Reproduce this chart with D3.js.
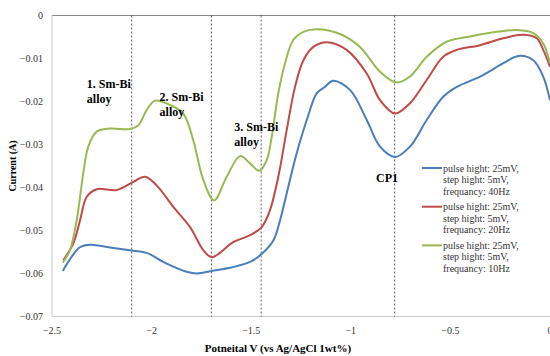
<!DOCTYPE html>
<html>
<head>
<meta charset="utf-8">
<script src="https://cdn.jsdelivr.net/npm/d3@7"></script>
<style>
  body { margin: 0; background: #fff; }
  svg text { font-family: "Liberation Serif", "DejaVu Serif", serif; }
  .tick-label { font-size: 10px; fill: #333; }
  .note { font-size: 12px; font-weight: bold; fill: #000; }
  .legend-text { font-size: 10px; fill: #333; }
</style>
</head>
<body>
<svg id="chart"></svg>
<script>
// potential (V) / current (A)
const v40 = [-2.446, -2.40, -2.36, -2.309, -2.20, -2.092, -2.025, -1.924, -1.824, -1.774, -1.70, -1.60, -1.50, -1.444,
  -1.389, -1.355, -1.322, -1.272, -1.221, -1.171, -1.13, -1.088, -1.004, -0.92, -0.853, -0.778, -0.703, -0.619,
  -0.536, -0.468, -0.351, -0.234, -0.159, -0.084, -0.034, 0];
const i40 = [-0.0594, -0.0560, -0.0539, -0.0533, -0.0540, -0.0547, -0.0552, -0.0577, -0.0596, -0.0600, -0.0594, -0.0586, -0.0572, -0.0553,
  -0.0523, -0.0476, -0.0414, -0.0321, -0.0243, -0.0181, -0.0166, -0.0152, -0.0173, -0.0243, -0.0305, -0.0329, -0.0305, -0.0243,
  -0.0189, -0.0166, -0.0142, -0.0111, -0.0094, -0.0104, -0.0142, -0.0197];

const v20 = [-2.443, -2.393, -2.359, -2.326, -2.276, -2.175, -2.092, -2.033, -1.975, -1.891, -1.807, -1.74, -1.697,
  -1.59, -1.506, -1.447, -1.406, -1.364, -1.322, -1.28, -1.238, -1.188, -1.121, -1.021, -0.92, -0.853, -0.778,
  -0.703, -0.619, -0.536, -0.468, -0.351, -0.234, -0.134, -0.067, -0.034, 0];
const i20 = [-0.0569, -0.0530, -0.0476, -0.0422, -0.0404, -0.0406, -0.0387, -0.0375, -0.0395, -0.0445, -0.0492, -0.0546, -0.0562,
  -0.0527, -0.0511, -0.0492, -0.0453, -0.0375, -0.0267, -0.0166, -0.0104, -0.0073, -0.0062, -0.0080, -0.0135, -0.0197, -0.0228,
  -0.0204, -0.0150, -0.0096, -0.0080, -0.0069, -0.0053, -0.0045, -0.0053, -0.0080, -0.0119];

const v10 = [-2.446, -2.41, -2.376, -2.343, -2.318, -2.276, -2.209, -2.108, -2.066, -2.025, -1.983, -1.908, -1.841, -1.791,
  -1.74, -1.686, -1.623, -1.556, -1.506, -1.459, -1.422, -1.397, -1.364, -1.33, -1.289, -1.238, -1.171, -1.054, -0.954,
  -0.853, -0.77, -0.703, -0.619, -0.519, -0.402, -0.268, -0.167, -0.084, -0.034, 0];
const i10 = [-0.0575, -0.0546, -0.0476, -0.0367, -0.0305, -0.0270, -0.0263, -0.0264, -0.0255, -0.0220, -0.0198, -0.0208, -0.0228, -0.0290,
  -0.0383, -0.0430, -0.0375, -0.0327, -0.0344, -0.0361, -0.0336, -0.0282, -0.0181, -0.0111, -0.0057, -0.0038, -0.0032, -0.0043, -0.0073,
  -0.0131, -0.0156, -0.0142, -0.0096, -0.0061, -0.0049, -0.0038, -0.0034, -0.0041, -0.0065, -0.0111];

const seriesNames = [
  ["pulse hight: 25mV,", "step hight: 5mV,", "frequancy: 40Hz"],
  ["pulse hight: 25mV,", "step hight: 5mV,", "frequancy: 20Hz"],
  ["pulse hight: 25mV,", "step hight: 5mV,", "frequancy: 10Hz"]
];
const seriesColors = ["#4a7ebb", "#be4b48", "#98b954"];

const xTicks = [-2.5, -2, -1.5, -1, -0.5, 0];
const yTicks = [0, -0.01, -0.02, -0.03, -0.04, -0.05, -0.06, -0.07];

// dashed markers and their notes
const markerV = [-2.1, -1.7, -1.45, -0.78];
const notes = [
  {v: -2.325, i: -0.0168, lines: ["1. Sm-Bi", "alloy"]},
  {v: -1.96, i: -0.0199, lines: ["2. Sm-Bi", "alloy"]},
  {v: -1.585, i: -0.0268, lines: ["3. Sm-Bi", "alloy"]},
  {v: -0.873, i: -0.0387, lines: ["CP1"]}
];

const width = 550, height = 356;
const margin = {top: 15.5, right: 0, bottom: 39.5, left: 52};

const svg = d3.select('#chart')
    .attr('width', width)
    .attr('height', height);

const xScale = d3.scaleLinear()
    .domain([-2.5, 0])
    .range([margin.left, width - margin.right]);

const yScale = d3.scaleLinear()
    .domain([-0.07, 0])
    .range([height - margin.bottom, margin.top]);

// axis lines (no tick marks in the original)
svg.append('line')
    .attr('x1', xScale(-2.5)).attr('x2', xScale(0))
    .attr('y1', yScale(0)).attr('y2', yScale(0))
    .attr('stroke', '#868686').attr('stroke-width', 1);
svg.append('line')
    .attr('x1', xScale(-2.5)).attr('x2', xScale(0))
    .attr('y1', yScale(-0.07)).attr('y2', yScale(-0.07))
    .attr('stroke', '#c8c8c8').attr('stroke-width', 1);
svg.append('line')
    .attr('x1', xScale(-2.5)).attr('x2', xScale(-2.5))
    .attr('y1', yScale(0)).attr('y2', yScale(-0.07))
    .attr('stroke', '#c8c8c8').attr('stroke-width', 1);

// tick labels
svg.selectAll('.ytick')
  .data(yTicks)
  .join('text')
    .attr('class', 'tick-label')
    .attr('x', margin.left - 9)
    .attr('y', d => yScale(d) + 3.5)
    .attr('text-anchor', 'end')
    .text(d => d3.format('~g')(d));

svg.selectAll('.xtick')
  .data(xTicks)
  .join('text')
    .attr('class', 'tick-label')
    .attr('x', d => xScale(d))
    .attr('y', yScale(-0.07) + 17)
    .attr('text-anchor', 'middle')
    .text(d => d3.format('~g')(d));

// axis titles
svg.append('text')
    .attr('transform', `translate(16,${(yScale(0) + yScale(-0.07)) / 2}) rotate(-90)`)
    .attr('text-anchor', 'middle')
    .style('font-size', '10px')
    .style('font-weight', 'bold')
    .text('Current (A)');

svg.append('text')
    .attr('x', 278)
    .attr('y', 352)
    .attr('text-anchor', 'middle')
    .style('font-size', '11px')
    .style('font-weight', 'bold')
    .text('Potneital V (vs Ag/AgCl 1wt%)');

// dashed vertical markers
svg.selectAll('.marker')
  .data(markerV)
  .join('line')
    .attr('x1', d => xScale(d)).attr('x2', d => xScale(d))
    .attr('y1', yScale(0)).attr('y2', yScale(-0.07))
    .attr('stroke', '#333')
    .attr('stroke-width', 0.8)
    .attr('stroke-dasharray', '2,2');

// curves
const series = [
  d3.zip(v40, i40),
  d3.zip(v20, i20),
  d3.zip(v10, i10)
];

const line = d3.line()
    .x(d => xScale(d[0]))
    .y(d => yScale(d[1]))
    .curve(d3.curveCatmullRom.alpha(0.5));

svg.selectAll('.series')
  .data(series)
  .join('path')
    .attr('fill', 'none')
    .attr('stroke', (d, i) => seriesColors[i])
    .attr('stroke-width', 2)
    .attr('d', line);

// notes
notes.forEach(n => {
  const t = svg.append('text')
      .attr('class', 'note')
      .attr('x', xScale(n.v))
      .attr('y', yScale(n.i));
  n.lines.forEach((s, k) => {
    t.append('tspan')
        .attr('x', xScale(n.v))
        .attr('dy', k === 0 ? 0 : 15)
        .text(s);
  });
});

// legend
const legend = svg.append('g')
    .attr('transform', 'translate(422,168)');

seriesNames.forEach((lines, i) => {
  const g = legend.append('g')
      .attr('transform', `translate(0,${i * 38.7})`);
  g.append('line')
      .attr('x1', 0).attr('x2', 20)
      .attr('y1', 0).attr('y2', 0)
      .attr('stroke', seriesColors[i])
      .attr('stroke-width', 2);
  const t = g.append('text')
      .attr('class', 'legend-text')
      .attr('x', 21)
      .attr('y', 3.5);
  lines.forEach((s, k) => {
    t.append('tspan')
        .attr('x', 21)
        .attr('dy', k === 0 ? 0 : 11.5)
        .text(s);
  });
});
</script>
</body>
</html>
